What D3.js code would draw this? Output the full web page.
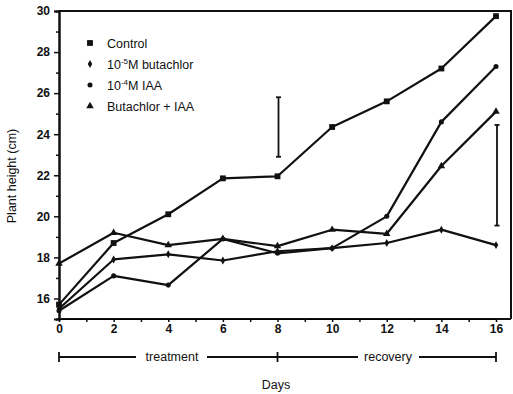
<!DOCTYPE html>
<html>
<head>
<meta charset="utf-8">
<script src="https://cdn.jsdelivr.net/npm/d3@7"></script>
<style>
  body { margin: 0; background: #fff; }
  svg text { font-family: "Liberation Sans", Arial, sans-serif; fill: #111; }
</style>
</head>
<body>
<svg id="chart" width="513" height="394"></svg>
<script>
// data
const days = [0, 2, 4, 6, 8, 10, 12, 14, 16];
const control = [15.7, 18.7, 20.1, 21.85, 21.95, 24.35, 25.6, 27.2, 29.75];
const butachlor = [15.5, 17.9, 18.15, 17.85, 18.3, 18.45, 18.7, 19.35, 18.6];
const iaa = [15.4, 17.1, 16.65, 18.9, 18.2, 18.45, 20.0, 24.6, 27.3];
const butachlorIaa = [17.7, 19.2, 18.6, 18.9, 18.55, 19.35, 19.15, 22.45, 25.1];
const seriesNames = ["Control", "butachlor", "IAA", "Butachlor + IAA"];
const errDays = [8, 16];
const errLow = [22.9, 19.55];
const errHigh = [25.8, 24.45];
const yTicks = [16, 18, 20, 22, 24, 26, 28, 30];
const xTicks = [0, 2, 4, 6, 8, 10, 12, 14, 16];

const lineColor = "#111";

const svg = d3.select("#chart");

const x = d3.scaleLinear().domain([0, 16]).range([59, 496]);
const y = d3.scaleLinear().domain([15, 30]).range([319, 11]);
const frameRight = 511;

// frame (top and right sides)
svg.append("path")
    .attr("d", d3.line()([[x(0), y(30)], [frameRight, y(30)], [frameRight, y(15)]]))
    .attr("fill", "none")
    .attr("stroke", lineColor)
    .attr("stroke-width", 2);

// y axis
const yAxis = svg.append("g")
    .attr("transform", `translate(${x(0)},0)`)
    .call(d3.axisLeft(y).tickValues(yTicks).tickSize(5).tickPadding(4).tickFormat(d3.format("d")));
yAxis.append("g")
    .call(d3.axisLeft(y).tickValues(d3.range(15, 30, 1).filter(d => d % 2 === 1)).tickSize(3).tickFormat(""));
yAxis.selectAll(".domain").attr("stroke-width", 2).attr("stroke", lineColor);
yAxis.selectAll(".tick line").attr("stroke-width", 1.5).attr("stroke", lineColor);
yAxis.selectAll("text").attr("font-size", 12).attr("font-weight", "bold").attr("fill", lineColor);

// x axis
const xAxis = svg.append("g")
    .attr("transform", `translate(0,${y(15)})`)
    .call(d3.axisBottom(x).tickValues(xTicks).tickSize(3).tickPadding(2).tickFormat(d3.format("d")));
xAxis.append("g")
    .call(d3.axisBottom(x).tickValues(d3.range(1, 16, 2)).tickSize(3).tickFormat(""));
xAxis.select(".domain").attr("d", `M${x(0)},0H${frameRight}`).attr("stroke-width", 2).attr("stroke", lineColor);
xAxis.selectAll(".tick line").attr("stroke-width", 1.5).attr("stroke", lineColor);
xAxis.selectAll("text").attr("font-size", 12).attr("font-weight", "bold").attr("fill", lineColor);

// axis titles
svg.append("text")
    .attr("transform", `translate(16,176) rotate(-90)`)
    .attr("text-anchor", "middle")
    .attr("font-size", 12.5)
    .text("Plant height (cm)");

svg.append("text")
    .attr("x", 276)
    .attr("y", 389)
    .attr("text-anchor", "middle")
    .attr("font-size", 12.5)
    .text("Days");

// treatment / recovery bracket
const bracketY = 357;
const bracket = svg.append("g").attr("stroke", lineColor).attr("stroke-width", 1.8);
bracket.append("path").attr("d", d3.line()([[x(0), bracketY], [136, bracketY]]));
bracket.append("path").attr("d", d3.line()([[207, bracketY], [358, bracketY]]));
bracket.append("path").attr("d", d3.line()([[419, bracketY], [x(16), bracketY]]));
[0, 8, 16].forEach(d => {
    bracket.append("path").attr("d", d3.line()([[x(d), bracketY - 5], [x(d), bracketY + 5]]));
});
svg.append("text").attr("x", 172).attr("y", bracketY + 4).attr("text-anchor", "middle")
    .attr("font-size", 12.5).text("treatment");
svg.append("text").attr("x", 388).attr("y", bracketY + 4).attr("text-anchor", "middle")
    .attr("font-size", 12.5).text("recovery");

// series
const series = [
    { name: seriesNames[0], values: control, marker: "square" },
    { name: seriesNames[1], values: butachlor, marker: "diamond" },
    { name: seriesNames[2], values: iaa, marker: "circle" },
    { name: seriesNames[3], values: butachlorIaa, marker: "triangle" }
];

const symbolType = {
    square: d3.symbolSquare,
    diamond: d3.symbolDiamond,
    circle: d3.symbolCircle,
    triangle: d3.symbolTriangle
};
const symbolSize = { square: 34, diamond: 18, circle: 20, triangle: 24 };

const line = d3.line()
    .x((d, i) => x(days[i]))
    .y(d => y(d));

const plot = svg.append("g");
series.forEach(s => {
    plot.append("path")
        .attr("d", line(s.values))
        .attr("fill", "none")
        .attr("stroke", lineColor)
        .attr("stroke-width", 2.2)
        .attr("stroke-linejoin", "round");
    plot.selectAll(null)
        .data(s.values)
        .enter()
        .append("path")
        .attr("transform", (d, i) => `translate(${x(days[i])},${y(d)})`)
        .attr("d", d3.symbol().type(symbolType[s.marker]).size(symbolSize[s.marker]))
        .attr("fill", lineColor);
});

// error bars
const err = svg.append("g").attr("stroke", lineColor).attr("stroke-width", 1.8);
errDays.forEach((d, i) => {
    const cx = x(d) + 1;
    err.append("path").attr("d", d3.line()([[cx, y(errLow[i])], [cx, y(errHigh[i])]]));
    err.append("path").attr("d", d3.line()([[cx - 2.5, y(errLow[i])], [cx + 2.5, y(errLow[i])]]));
    err.append("path").attr("d", d3.line()([[cx - 2.5, y(errHigh[i])], [cx + 2.5, y(errHigh[i])]]));
});

// legend
const legend = svg.append("g");
const legendLabels = [
    ["Control"],
    ["10", "-5", "M butachlor"],
    ["10", "-4", "M IAA"],
    ["Butachlor + IAA"]
];
series.forEach((s, i) => {
    const ly = 43 + i * 21;
    legend.append("path")
        .attr("transform", `translate(90,${ly})`)
        .attr("d", d3.symbol().type(symbolType[s.marker]).size(symbolSize[s.marker]))
        .attr("fill", lineColor);
    const t = legend.append("text")
        .attr("x", 107)
        .attr("y", ly + 4.5)
        .attr("font-size", 12.5);
    const parts = legendLabels[i];
    if (parts.length === 1) {
        t.text(parts[0]);
    } else {
        t.append("tspan").text(parts[0]);
        t.append("tspan").attr("dy", -5).attr("font-size", 8).text(parts[1]);
        t.append("tspan").attr("dy", 5).text(parts[2]);
    }
});
</script>
</body>
</html>
